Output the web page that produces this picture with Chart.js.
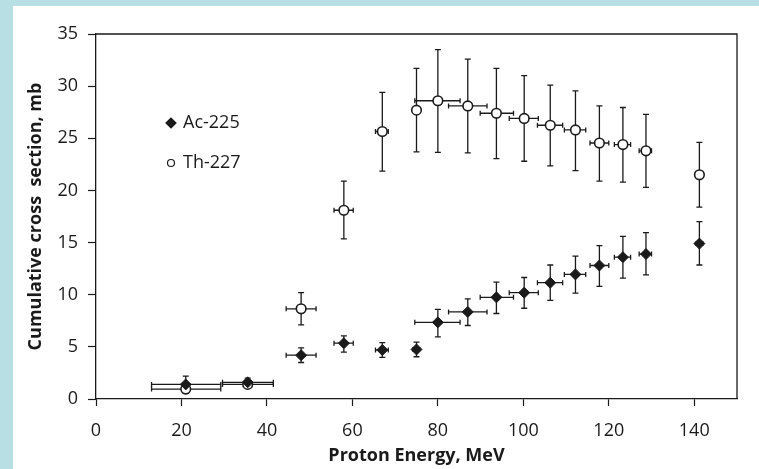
<!DOCTYPE html>
<html>
<head>
<meta charset="utf-8">
<script src="https://cdn.jsdelivr.net/npm/chart.js@4.4.1/dist/chart.umd.min.js"></script>
<style>
  html, body { margin: 0; padding: 0; background: #b8e0e4; }
  #wrap { position: absolute; left: 13px; top: 6px; width: 746px; height: 463px; background: #fff; }
</style>
</head>
<body>
<div id="wrap"><canvas id="chart" width="746" height="463"></canvas></div>
<script>
// Proton energy (MeV) and its horizontal error range
const energy     = [21, 35.5, 48, 58, 67, 75, 80, 87, 93.7, 100.2, 106.3, 112.2, 117.8, 123.3, 128.7, 141.2];
const energyLow  = [13, 29.6, 44.5, 55.7, 65.4, 74.2, 74.6, 82.5, 89.9, 96.7, 103.3, 109.6, 115.6, 121.3, 127.1, 140.4];
const energyHigh = [29.2, 41.5, 51.5, 60.2, 68.4, 75.6, 85.2, 91.5, 97.7, 103.5, 109.2, 114.6, 120, 125.1, 130, 142];

// Ac-225 cumulative cross section, mb
const acValues = [1.4, 1.6, 4.2, 5.35, 4.7, 4.75, 7.35, 8.35, 9.75, 10.2, 11.15, 11.95, 12.8, 13.6, 13.9, 14.9];
const acLow    = [0.6, 1.2, 3.5, 4.5, 4.0, 4.05, 5.95, 7.05, 8.2, 8.7, 9.45, 10.15, 10.8, 11.6, 11.9, 12.85];
const acHigh   = [2.2, 2.0, 4.9, 6.05, 5.4, 5.45, 8.6, 9.6, 11.2, 11.65, 12.85, 13.7, 14.7, 15.6, 15.95, 17.0];

// Th-227 cumulative cross section, mb
const thValues = [0.95, 1.4, 8.65, 18.1, 25.65, 27.7, 28.6, 28.1, 27.4, 26.9, 26.25, 25.8, 24.55, 24.4, 23.8, 21.5];
const thLow    = [0.55, 1.2, 7.1, 15.35, 21.85, 23.7, 23.65, 23.6, 23.05, 22.8, 22.35, 21.9, 20.9, 20.8, 20.3, 18.4];
const thHigh   = [1.3, 1.6, 10.2, 20.9, 29.4, 31.7, 33.5, 32.6, 31.7, 31.0, 30.1, 29.55, 28.1, 27.95, 27.3, 24.6];

const xTicks = [0, 20, 40, 60, 80, 100, 120, 140];
const yTicks = [0, 5, 10, 15, 20, 25, 30, 35];

const ink = '#1a1a1a';
const tickFont = { family: "'Open Sans', sans-serif", size: 18 };
const titleFont = { family: "'Open Sans', sans-serif", size: 18, weight: 'bold' };

function points(values) {
    return energy.map((e, i) => ({ x: e, y: values[i] }));
}

// error bars, drawn under the markers
const errorBarsPlugin = {
    id: 'errorBars',
    beforeDatasetsDraw(chart) {
        const { ctx, scales: { x, y } } = chart;
        const sets = [[acValues, acLow, acHigh], [thValues, thLow, thHigh]];
        ctx.save();
        ctx.strokeStyle = ink;
        ctx.lineWidth = 1.3;
        sets.forEach(([vals, lo, hi]) => {
            energy.forEach((e, i) => {
                const px = x.getPixelForValue(e);
                const py = y.getPixelForValue(vals[i]);
                const y1 = y.getPixelForValue(lo[i]);
                const y2 = y.getPixelForValue(hi[i]);
                const x1 = x.getPixelForValue(energyLow[i]);
                const x2 = x.getPixelForValue(energyHigh[i]);
                ctx.beginPath();
                ctx.moveTo(px, y1); ctx.lineTo(px, y2);
                ctx.moveTo(px - 3, y1); ctx.lineTo(px + 3, y1);
                ctx.moveTo(px - 3, y2); ctx.lineTo(px + 3, y2);
                ctx.moveTo(x1, py); ctx.lineTo(x2, py);
                ctx.moveTo(x1, py - 2.5); ctx.lineTo(x1, py + 2.5);
                ctx.moveTo(x2, py - 2.5); ctx.lineTo(x2, py + 2.5);
                ctx.stroke();
            });
        });
        ctx.restore();
    }
};

// frame on top and right + legend inside the plot
const frameLegendPlugin = {
    id: 'frameLegend',
    afterDatasetsDraw(chart) {
        const { ctx, chartArea: a } = chart;
        ctx.save();
        ctx.strokeStyle = ink;
        ctx.lineWidth = 1.3;
        ctx.beginPath();
        ctx.moveTo(a.left, a.top); ctx.lineTo(a.right, a.top); ctx.lineTo(a.right, a.bottom);
        ctx.stroke();

        ctx.font = "18px 'Open Sans', sans-serif";
        ctx.textBaseline = 'middle';
        chart.data.datasets.forEach((ds, i) => {
            const lx = a.left + 75;
            const ly = a.top + 89 + i * 40;
            ctx.fillStyle = ds.backgroundColor;
            ctx.strokeStyle = ink;
            ctx.lineWidth = 1.2;
            Chart.helpers.drawPoint(ctx, {
                pointStyle: ds.pointStyle,
                radius: ds.pointStyle === 'circle' ? 3.5 : 5,
                borderWidth: 1.2
            }, lx, ly);
            ctx.fillStyle = ink;
            ctx.fillText(ds.label, lx + 12, ly);
        });
        ctx.restore();
    }
};

new Chart(document.getElementById('chart'), {
    type: 'scatter',
    data: {
        datasets: [
            {
                label: 'Ac-225',
                data: points(acValues),
                pointStyle: 'rectRot',
                pointRadius: 5.5,
                backgroundColor: ink,
                borderColor: ink,
                borderWidth: 1
            },
            {
                label: 'Th-227',
                data: points(thValues),
                pointStyle: 'circle',
                pointRadius: 4.8,
                backgroundColor: '#fff',
                borderColor: ink,
                borderWidth: 1.6
            }
        ]
    },
    options: {
        responsive: false,
        animation: false,
        layout: { padding: { top: 28, right: 22, left: 0, bottom: 0 } },
        plugins: {
            legend: { display: false },
            tooltip: { enabled: false }
        },
        scales: {
            x: {
                type: 'linear',
                min: 0,
                max: 150,
                afterFit(scale) { scale.height = 70; },
                afterBuildTicks(scale) { scale.ticks = xTicks.map(v => ({ value: v })); },
                ticks: { font: tickFont, color: ink, padding: 14 },
                grid: { drawOnChartArea: false, tickLength: 7, color: ink, tickWidth: 1.2 },
                border: { color: ink, width: 1.3 },
                title: { display: true, text: 'Proton Energy, MeV', font: titleFont, color: ink, padding: { top: 0, bottom: 2 } }
            },
            y: {
                type: 'linear',
                min: 0,
                max: 35,
                afterFit(scale) { scale.width = 83; },
                afterBuildTicks(scale) { scale.ticks = yTicks.map(v => ({ value: v })); },
                ticks: { font: tickFont, color: ink, padding: 10 },
                grid: { drawOnChartArea: false, tickLength: 8, color: ink, tickWidth: 1.2 },
                border: { color: ink, width: 1.3 },
                title: { display: true, text: 'Cumulative cross  section, mb', font: titleFont, color: ink, padding: { top: 12, bottom: 0 } }
            }
        }
    },
    plugins: [errorBarsPlugin, frameLegendPlugin]
});
</script>
</body>
</html>
